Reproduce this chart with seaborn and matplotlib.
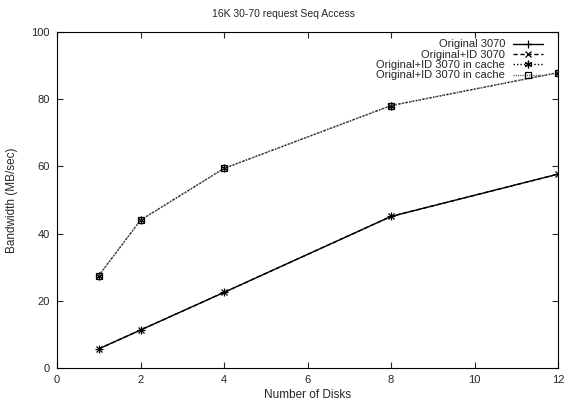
import matplotlib
matplotlib.use("Agg")
import matplotlib.pyplot as plt
import seaborn as sns
import pandas as pd

disks = [1, 2, 4, 8, 12]
original = [5.7, 11.3, 22.5, 45.1, 57.7]
original_id = [5.7, 11.3, 22.5, 45.1, 57.7]
original_id_cache = [27.5, 44.0, 59.4, 78.1, 87.9]
original_id_cache2 = [27.5, 44.0, 59.4, 78.1, 87.9]
labels = ["Original 3070", "Original+ID 3070", "Original+ID 3070 in cache", "Original+ID 3070 in cache"]

sns.set_style("ticks")
plt.rcParams['font.family'] = ['Liberation Sans', 'DejaVu Sans']

fig = plt.figure(figsize=(5.68, 4.04), dpi=100)
ax = fig.add_axes([57 / 568, 36 / 404, 501 / 568, 336 / 404])

series = [original, original_id, original_id_cache, original_id_cache2]
styles = [
    dict(linestyle='-', marker='+', color='black', markersize=5.5, mfc='black', mec='black'),
    dict(linestyle=(0, (3, 2)), marker='x', color='black', markersize=4, mfc='black', mec='black'),
    dict(linestyle=(0, (1, 1.5)), marker=(6, 2, 0), color='black', markersize=5.5, mfc='black', mec='black'),
    dict(linestyle=(0, (0.8, 0.8)), marker='s', color='#555555', markersize=4.5, mfc='none', mec='black'),
]
for vals, lab, st in zip(series, labels, styles):
    df = pd.DataFrame({"disks": disks, "bw": vals})
    sns.lineplot(data=df, x="disks", y="bw", ax=ax, label=lab, linewidth=1.0,
                 markeredgewidth=0.9, **st)

ax.set_xlim(0, 12)
ax.set_ylim(0, 100)
ax.set_xticks(range(0, 13, 2))
ax.set_yticks(range(0, 101, 20))
ax.tick_params(direction='in', top=True, right=True, labelsize=8, length=4, width=0.8)
ax.tick_params(axis='x', pad=5)
ax.tick_params(axis='y', pad=5)
for s in ax.spines.values():
    s.set_visible(True)
    s.set_linewidth(0.8)
    s.set_color('black')
ax.set_xlabel("Number of Disks", fontsize=8.5, labelpad=3)
ax.set_ylabel("Bandwidth (MB/sec)", fontsize=8.5, labelpad=10)
fig.text(0.5, 1 - 14 / 404, "16K 30-70 request Seq Access", fontsize=7.5, ha='center', va='center')
leg = ax.legend(loc='upper right', bbox_to_anchor=(0.979, 0.991), frameon=False, markerfirst=False,
                fontsize=8, handlelength=2.7, labelspacing=0.03, borderaxespad=0.2,
                handletextpad=0.72, borderpad=0.2)
fig.savefig("out.png", dpi=100)
